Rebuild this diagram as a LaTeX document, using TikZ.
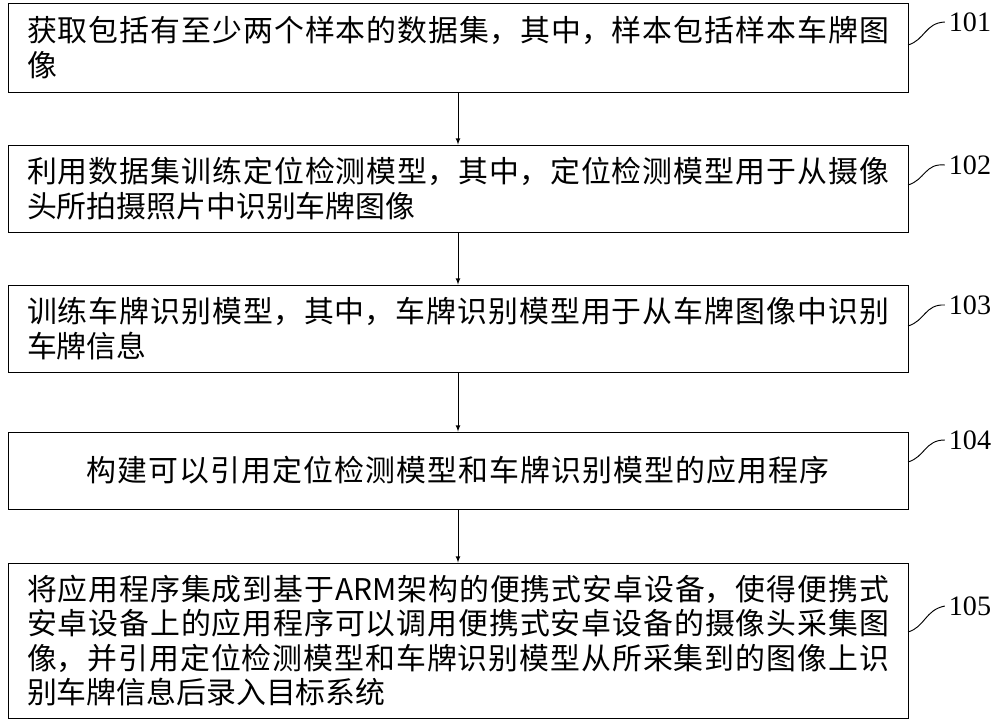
\documentclass[tikz,border=0pt]{standalone}
\usepackage{fontspec}
\setmainfont{Liberation Serif}
\newfontfamily\cjk{Noto Sans CJK SC}
\usetikzlibrary{positioning}
\tikzset{x=0.03cm,y=-0.03cm,
    stepbox/.style={
        draw,
        thick,
        minimum width=900*0.03cm,
        text width=862*0.03cm,
        align=justify,
        inner xsep=19*0.03cm,
        inner ysep=0pt,
        font=\cjk\fontsize{25.5}{29.5}\selectfont},
    steplabel/.style={
        font=\fontsize{24}{28}\selectfont},
    every edge/.style={
        draw,
        thick,
        -latex}}
\XeTeXlinebreaklocale "zh"
\XeTeXlinebreakskip=0pt plus 1pt

\begin{document}
\begin{tikzpicture}
        \useasboundingbox (0,0) rectangle (1000,723);
        \node[stepbox, minimum height=89*0.03cm] (s1) at (458,47.5) {获取包括有至少两个样本的数据集，其中，样本包括样本车牌图像};
        \node[stepbox, minimum height=87*0.03cm] (s2) at (458,188.5) {利用数据集训练定位检测模型，其中，定位检测模型用于从摄像头所拍摄照片中识别车牌图像};
        \node[stepbox, minimum height=87*0.03cm] (s3) at (458,328.5) {训练车牌识别模型，其中，车牌识别模型用于从车牌图像中识别车牌信息};
        \node[stepbox, minimum height=77*0.03cm, align=center] (s4) at (458,470.5) {构建可以引用定位检测模型和车牌识别模型的应用程序};
        \node[stepbox, minimum height=155*0.03cm] (s5) at (458,640.5) {将应用程序集成到基于ARM架构的便携式安卓设备，使得便携式安卓设备上的应用程序可以调用便携式安卓设备的摄像头采集图像，并引用定位检测模型和车牌识别模型从所采集到的图像上识别车牌信息后录入目标系统};

        \node[steplabel] (l1) at (970,22) {101};
        \node[steplabel] (l2) at (970,165) {102};
        \node[steplabel] (l3) at (970,305) {103};
        \node[steplabel] (l4) at (970,440) {104};
        \node[steplabel] (l5) at (970,606) {105};

        \draw (s1) edge (s2);
        \draw (s2) edge (s3);
        \draw (s3) edge (s4);
        \draw (s4) edge (s5);

        % leader lines to the step numbers
        \foreach \i/\y in {1/45,2/185,3/326,4/462,5/632}
            \draw[thick] (908,\y) .. controls (925,\y-5) and (925,\y-22) .. (l\i.west);
\end{tikzpicture}
\end{document}
